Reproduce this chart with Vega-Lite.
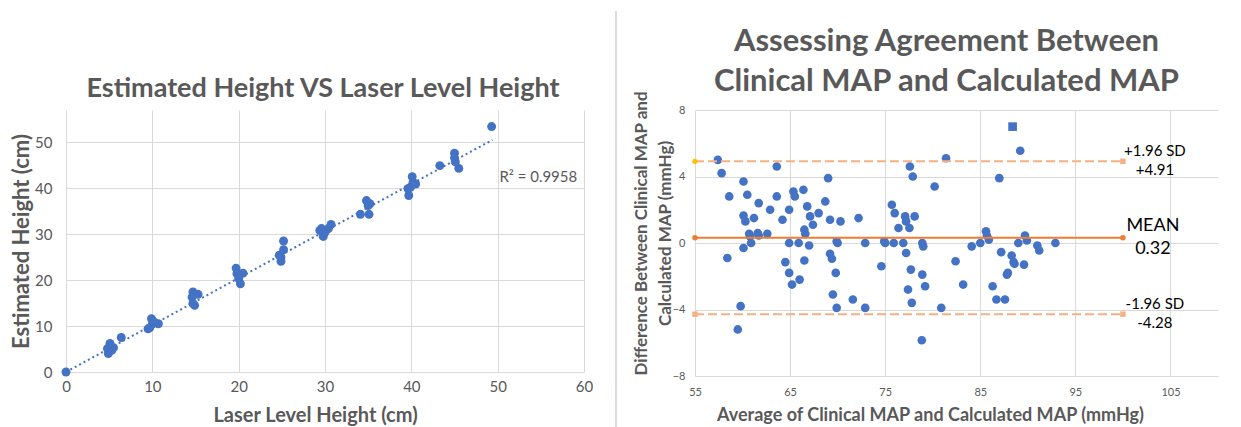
{
  "$schema": "https://vega.github.io/schema/vega-lite/v6.json",
  "background": "white",
  "padding": {"left": 10, "top": 10, "right": 5, "bottom": 0},
  "spacing": 10,
  "config": {
    "font": "Lato",
    "view": {"stroke": null},
    "axis": {
      "domain": false, "ticks": false, "tickSize": 0, "labelFlush": false,
      "gridColor": "#D9D9D9", "gridWidth": 1,
      "labelColor": "#595959", "titleColor": "#595959",
      "labelFont": "Lato", "titleFont": "Lato", "titleFontWeight": "bold"
    },
    "title": {"font": "Lato", "fontWeight": "bold", "color": "#595959"}
  },
  "datasets": {
    "heights": [
      {"laser": 0, "estimated": 0},
      {"laser": 4.8, "estimated": 5.1}, {"laser": 4.9, "estimated": 4.0}, {"laser": 5.1, "estimated": 6.2},
      {"laser": 5.5, "estimated": 5.3}, {"laser": 5.3, "estimated": 4.7}, {"laser": 6.4, "estimated": 7.5},
      {"laser": 9.5, "estimated": 9.4}, {"laser": 9.9, "estimated": 11.6}, {"laser": 10.0, "estimated": 10.4},
      {"laser": 9.7, "estimated": 9.6}, {"laser": 10.7, "estimated": 10.5}, {"laser": 10.2, "estimated": 10.9},
      {"laser": 14.7, "estimated": 17.4}, {"laser": 14.6, "estimated": 16.3}, {"laser": 15.3, "estimated": 16.9},
      {"laser": 14.7, "estimated": 14.9}, {"laser": 14.9, "estimated": 14.5},
      {"laser": 19.7, "estimated": 22.6}, {"laser": 19.8, "estimated": 21.4}, {"laser": 20.5, "estimated": 21.5},
      {"laser": 20.0, "estimated": 20.3}, {"laser": 20.2, "estimated": 19.2},
      {"laser": 25.2, "estimated": 28.5}, {"laser": 25.2, "estimated": 26.6}, {"laser": 24.9, "estimated": 25.0},
      {"laser": 24.9, "estimated": 24.1}, {"laser": 24.7, "estimated": 25.4},
      {"laser": 29.4, "estimated": 30.8}, {"laser": 29.8, "estimated": 29.5}, {"laser": 30.0, "estimated": 30.4},
      {"laser": 30.4, "estimated": 31.2}, {"laser": 30.7, "estimated": 32.1}, {"laser": 29.6, "estimated": 31.2},
      {"laser": 34.1, "estimated": 34.3}, {"laser": 35.1, "estimated": 34.3}, {"laser": 34.8, "estimated": 37.3},
      {"laser": 35.0, "estimated": 36.2}, {"laser": 35.2, "estimated": 36.6},
      {"laser": 39.7, "estimated": 38.4}, {"laser": 39.6, "estimated": 39.9}, {"laser": 39.9, "estimated": 40.2},
      {"laser": 40.1, "estimated": 42.5}, {"laser": 40.2, "estimated": 41.3}, {"laser": 40.5, "estimated": 40.9},
      {"laser": 43.3, "estimated": 44.9}, {"laser": 45.0, "estimated": 47.6}, {"laser": 45.0, "estimated": 46.6},
      {"laser": 45.1, "estimated": 45.7}, {"laser": 45.5, "estimated": 44.3}, {"laser": 49.3, "estimated": 53.4}
    ],
    "trend": [{"laser": 0, "estimated": 0}, {"laser": 49.4, "estimated": 50.5}],
    "r2": [{"laser": 50.2, "estimated": 42.5, "label": "R² = 0.9958"}],
    "divider": [{"x": 0.684, "top": 1.378, "bottom": -0.214}],
    "bland": [
      {"avg": 57.4, "diff": 5.0, "marker": "circle"}, {"avg": 57.8, "diff": 4.2, "marker": "circle"},
      {"avg": 58.6, "diff": 2.8, "marker": "circle"}, {"avg": 58.4, "diff": -0.9, "marker": "circle"},
      {"avg": 59.5, "diff": -5.2, "marker": "circle"}, {"avg": 59.8, "diff": -3.8, "marker": "circle"},
      {"avg": 60.1, "diff": 3.7, "marker": "circle"}, {"avg": 60.1, "diff": 1.65, "marker": "circle"},
      {"avg": 60.3, "diff": 1.3, "marker": "circle"}, {"avg": 60.5, "diff": 2.9, "marker": "circle"},
      {"avg": 60.1, "diff": -0.3, "marker": "circle"}, {"avg": 61.2, "diff": 1.5, "marker": "circle"},
      {"avg": 60.7, "diff": 0.55, "marker": "circle"}, {"avg": 60.8, "diff": 0.4, "marker": "circle"},
      {"avg": 60.9, "diff": 0, "marker": "circle"}, {"avg": 61.7, "diff": 2.4, "marker": "circle"},
      {"avg": 61.6, "diff": 0.6, "marker": "circle"}, {"avg": 61.7, "diff": 0.45, "marker": "circle"},
      {"avg": 62.6, "diff": 0.55, "marker": "circle"}, {"avg": 62.9, "diff": 2.0, "marker": "circle"},
      {"avg": 63.6, "diff": 2.8, "marker": "circle"}, {"avg": 63.6, "diff": 4.6, "marker": "circle"},
      {"avg": 64.2, "diff": 1.4, "marker": "circle"}, {"avg": 64.5, "diff": -1.15, "marker": "circle"},
      {"avg": 64.9, "diff": 2.0, "marker": "circle"}, {"avg": 64.9, "diff": -1.8, "marker": "circle"},
      {"avg": 64.9, "diff": 0, "marker": "circle"}, {"avg": 65.2, "diff": -2.5, "marker": "circle"},
      {"avg": 65.35, "diff": 3.1, "marker": "circle"}, {"avg": 65.5, "diff": 2.8, "marker": "circle"},
      {"avg": 65.9, "diff": 0, "marker": "circle"}, {"avg": 66.0, "diff": -2.2, "marker": "circle"},
      {"avg": 66.4, "diff": 3.2, "marker": "circle"}, {"avg": 66.5, "diff": -1.05, "marker": "circle"},
      {"avg": 66.5, "diff": 0.8, "marker": "circle"}, {"avg": 66.6, "diff": 0.55, "marker": "circle"},
      {"avg": 66.8, "diff": 2.2, "marker": "circle"}, {"avg": 67.0, "diff": -0.15, "marker": "circle"},
      {"avg": 67.1, "diff": 1.6, "marker": "circle"}, {"avg": 67.4, "diff": 1.1, "marker": "circle"},
      {"avg": 68.0, "diff": 1.8, "marker": "circle"}, {"avg": 68.7, "diff": 2.5, "marker": "circle"},
      {"avg": 69.0, "diff": 3.9, "marker": "circle"}, {"avg": 69.2, "diff": 1.4, "marker": "circle"},
      {"avg": 69.2, "diff": -0.65, "marker": "circle"}, {"avg": 69.4, "diff": -0.95, "marker": "circle"},
      {"avg": 69.5, "diff": -3.1, "marker": "circle"}, {"avg": 69.8, "diff": -1.8, "marker": "circle"},
      {"avg": 69.9, "diff": 0.1, "marker": "circle"}, {"avg": 70.0, "diff": 0, "marker": "circle"},
      {"avg": 69.9, "diff": -3.9, "marker": "circle"}, {"avg": 70.3, "diff": 1.3, "marker": "circle"},
      {"avg": 71.6, "diff": -3.4, "marker": "circle"}, {"avg": 72.2, "diff": 1.5, "marker": "circle"},
      {"avg": 72.9, "diff": -3.9, "marker": "circle"}, {"avg": 72.9, "diff": 0, "marker": "circle"},
      {"avg": 74.6, "diff": -1.4, "marker": "circle"}, {"avg": 74.9, "diff": 0.1, "marker": "circle"},
      {"avg": 75.0, "diff": 0, "marker": "circle"}, {"avg": 75.7, "diff": 2.3, "marker": "circle"},
      {"avg": 76.0, "diff": 1.8, "marker": "circle"}, {"avg": 75.9, "diff": 0, "marker": "circle"},
      {"avg": 76.4, "diff": 0.9, "marker": "circle"}, {"avg": 76.9, "diff": 0, "marker": "circle"},
      {"avg": 77.1, "diff": 1.6, "marker": "circle"}, {"avg": 77.2, "diff": 1.3, "marker": "circle"},
      {"avg": 77.2, "diff": -0.6, "marker": "circle"}, {"avg": 77.4, "diff": -2.8, "marker": "circle"},
      {"avg": 77.55, "diff": 0.9, "marker": "circle"}, {"avg": 77.6, "diff": 4.6, "marker": "circle"},
      {"avg": 77.7, "diff": -1.6, "marker": "circle"}, {"avg": 77.8, "diff": -3.6, "marker": "circle"},
      {"avg": 77.9, "diff": 4.0, "marker": "circle"}, {"avg": 78.1, "diff": 1.6, "marker": "circle"},
      {"avg": 78.9, "diff": 0, "marker": "circle"}, {"avg": 78.85, "diff": -5.85, "marker": "circle"},
      {"avg": 78.9, "diff": -1.9, "marker": "circle"}, {"avg": 79.0, "diff": -0.2, "marker": "circle"},
      {"avg": 79.2, "diff": -2.6, "marker": "circle"}, {"avg": 80.2, "diff": 3.4, "marker": "circle"},
      {"avg": 80.9, "diff": -3.9, "marker": "circle"}, {"avg": 81.4, "diff": 5.1, "marker": "circle"},
      {"avg": 82.4, "diff": -1.1, "marker": "circle"}, {"avg": 83.2, "diff": -2.5, "marker": "circle"},
      {"avg": 84.1, "diff": -0.2, "marker": "circle"}, {"avg": 85.0, "diff": 0, "marker": "circle"},
      {"avg": 85.6, "diff": 0.7, "marker": "circle"}, {"avg": 85.7, "diff": 0.45, "marker": "circle"},
      {"avg": 85.9, "diff": 0.2, "marker": "circle"}, {"avg": 86.3, "diff": -2.6, "marker": "circle"},
      {"avg": 86.7, "diff": -3.4, "marker": "circle"}, {"avg": 87.0, "diff": 3.9, "marker": "circle"},
      {"avg": 87.2, "diff": -0.55, "marker": "circle"}, {"avg": 87.6, "diff": -3.4, "marker": "circle"},
      {"avg": 87.8, "diff": -1.9, "marker": "circle"}, {"avg": 87.9, "diff": -1.8, "marker": "circle"},
      {"avg": 88.3, "diff": -0.75, "marker": "circle"}, {"avg": 88.5, "diff": -1.15, "marker": "circle"},
      {"avg": 88.6, "diff": -1.25, "marker": "circle"}, {"avg": 88.4, "diff": 7.0, "marker": "square"},
      {"avg": 89.2, "diff": 5.55, "marker": "circle"}, {"avg": 89.0, "diff": 0, "marker": "circle"},
      {"avg": 89.6, "diff": -1.3, "marker": "circle"}, {"avg": 89.7, "diff": 0.45, "marker": "circle"},
      {"avg": 89.9, "diff": 0.15, "marker": "circle"}, {"avg": 91.0, "diff": -0.15, "marker": "circle"},
      {"avg": 91.2, "diff": -0.45, "marker": "circle"}, {"avg": 92.9, "diff": 0, "marker": "circle"}
    ],
    "limits": [
      {"kind": "upper", "start": 55, "end": 100, "value": 4.91, "label": "+1.96 SD\n+4.91"},
      {"kind": "mean", "start": 55, "end": 100, "value": 0.32, "label": "MEAN\n0.32"},
      {"kind": "lower", "start": 55, "end": 100, "value": -4.28, "label": "-1.96 SD\n-4.28"}
    ],
    "ends": [
      {"marker": "upper-start", "avg": 55, "value": 4.91},
      {"marker": "upper-end", "avg": 100, "value": 4.91},
      {"marker": "mean", "avg": 55, "value": 0.32},
      {"marker": "mean", "avg": 100, "value": 0.32},
      {"marker": "lower", "avg": 55, "value": -4.28},
      {"marker": "lower", "avg": 100, "value": -4.28}
    ]
  },
  "hconcat": [
    {
      "width": 518,
      "height": 262,
      "title": {"text": "Estimated Height VS Laser Level Height", "fontSize": 27, "baseline": "alphabetic", "offset": -14, "frame": "group", "dx": -2},
      "layer": [
        {
          "data": {"name": "heights"},
          "mark": {"type": "circle", "size": 80, "opacity": 1, "color": "#4472C4"},
          "encoding": {
            "x": {"field": "laser", "type": "quantitative",
              "scale": {"domain": [0, 60], "nice": false},
              "axis": {"values": [0, 10, 20, 30, 40, 50, 60], "title": "Laser Level Height (cm)",
                "titleFontSize": 20, "labelFontSize": 15, "labelPadding": 7, "titlePadding": 11, "titleX": 249}},
            "y": {"field": "estimated", "type": "quantitative",
              "scale": {"domain": [0, 57], "nice": false},
              "axis": {"values": [0, 10, 20, 30, 40, 50], "title": "Estimated Height (cm)",
                "titleFontSize": 22, "labelFontSize": 15, "labelPadding": 14, "titlePadding": 1}}
          }
        },
        {
          "data": {"name": "trend"},
          "mark": {"type": "line", "color": "#4472C4", "strokeWidth": 2, "strokeDash": [2, 3]},
          "encoding": {
            "x": {"field": "laser", "type": "quantitative"},
            "y": {"field": "estimated", "type": "quantitative"}
          }
        },
        {
          "data": {"name": "r2"},
          "mark": {"type": "text", "align": "left", "baseline": "middle", "fontSize": 15, "color": "#595959", "font": "Lato"},
          "encoding": {
            "x": {"field": "laser", "type": "quantitative"},
            "y": {"field": "estimated", "type": "quantitative"},
            "text": {"field": "label"}
          }
        }
      ]
    },
    {
      "width": 19,
      "height": 262,
      "data": {"name": "divider"},
      "mark": {"type": "rule", "color": "#D0D0D0", "strokeWidth": 1.5, "clip": false},
      "encoding": {
        "x": {"field": "x", "type": "quantitative", "scale": {"domain": [0, 1], "nice": false}, "axis": null},
        "y": {"field": "top", "type": "quantitative", "scale": {"domain": [0, 1], "nice": false}, "axis": null},
        "y2": {"field": "bottom"}
      }
    },
    {
      "width": 523,
      "height": 266,
      "title": {"text": ["Assessing Agreement Between", "Clinical MAP and Calculated MAP"], "fontSize": 31, "lineHeight": 40, "baseline": "bottom", "offset": -38, "frame": "group", "dx": -10},
      "layer": [
        {
          "data": {"name": "bland"},
          "mark": {"type": "point", "filled": true, "opacity": 1, "size": 75, "color": "#4472C4"},
          "encoding": {
            "x": {"field": "avg", "type": "quantitative",
              "scale": {"domain": [55, 110], "nice": false},
              "axis": {"values": [55, 65, 75, 85, 95, 105], "title": "Average of Clinical MAP and Calculated MAP (mmHg)",
                "titleFontSize": 18, "labelFontSize": 11, "labelPadding": 10, "titlePadding": 9, "titleX": 235}},
            "y": {"field": "diff", "type": "quantitative",
              "scale": {"domain": [-8, 8], "nice": false},
              "axis": {"values": [-8, -6, -4, -2, 0, 2, 4, 6, 8],
                "title": ["Difference Between Clinical MAP and", "Calculated MAP (mmHg)"],
                "titleFontSize": 17, "titleLineHeight": 24, "labelFontSize": 11, "labelPadding": 10, "titlePadding": -2, "titleY": 123}},
            "shape": {"field": "marker", "type": "nominal", "scale": {"domain": ["circle", "square"], "range": ["circle", "square"]}, "legend": null}
          }
        },
        {
          "data": {"name": "limits"},
          "mark": {"type": "rule", "strokeWidth": 2},
          "encoding": {
            "x": {"field": "start", "type": "quantitative"},
            "x2": {"field": "end"},
            "y": {"field": "value", "type": "quantitative"},
            "color": {"field": "kind", "type": "nominal", "scale": {"domain": ["upper", "mean", "lower"], "range": ["#F4B183", "#ED7D31", "#F4B183"]}, "legend": null},
            "strokeDash": {"field": "kind", "type": "nominal", "scale": {"domain": ["upper", "mean", "lower"], "range": [[9, 4], [1, 0], [9, 4]]}, "legend": null}
          }
        },
        {
          "data": {"name": "ends"},
          "mark": {"type": "point", "filled": true, "opacity": 1, "size": 30},
          "encoding": {
            "x": {"field": "avg", "type": "quantitative"},
            "y": {"field": "value", "type": "quantitative"},
            "fill": {"field": "marker", "type": "nominal", "scale": {"domain": ["upper-start", "upper-end", "mean", "lower"], "range": ["#FFC000", "#F4B183", "#ED7D31", "#F4B183"]}, "legend": null},
            "shape": {"field": "marker", "type": "nominal", "scale": {"domain": ["upper-start", "upper-end", "mean", "lower"], "range": ["circle", "square", "circle", "square"]}, "legend": null}
          }
        },
        {
          "data": {"name": "limits"},
          "transform": [{"filter": "datum.kind !== 'mean'"}],
          "mark": {"type": "text", "align": "center", "baseline": "middle", "dx": 32, "dy": -10, "fontSize": 15, "lineHeight": 19, "lineBreak": "\n", "color": "#000000", "font": "Lato"},
          "encoding": {
            "x": {"field": "end", "type": "quantitative"},
            "y": {"field": "value", "type": "quantitative"},
            "text": {"field": "label"}
          }
        },
        {
          "data": {"name": "limits"},
          "transform": [{"filter": "datum.kind === 'mean'"}],
          "mark": {"type": "text", "align": "center", "baseline": "middle", "dx": 30, "dy": -11.5, "fontSize": 18, "lineHeight": 23, "lineBreak": "\n", "color": "#000000", "font": "Lato"},
          "encoding": {
            "x": {"field": "end", "type": "quantitative"},
            "y": {"field": "value", "type": "quantitative"},
            "text": {"field": "label"}
          }
        }
      ],
      "resolve": {"scale": {"shape": "independent", "color": "independent", "fill": "independent"}}
    }
  ]
}
